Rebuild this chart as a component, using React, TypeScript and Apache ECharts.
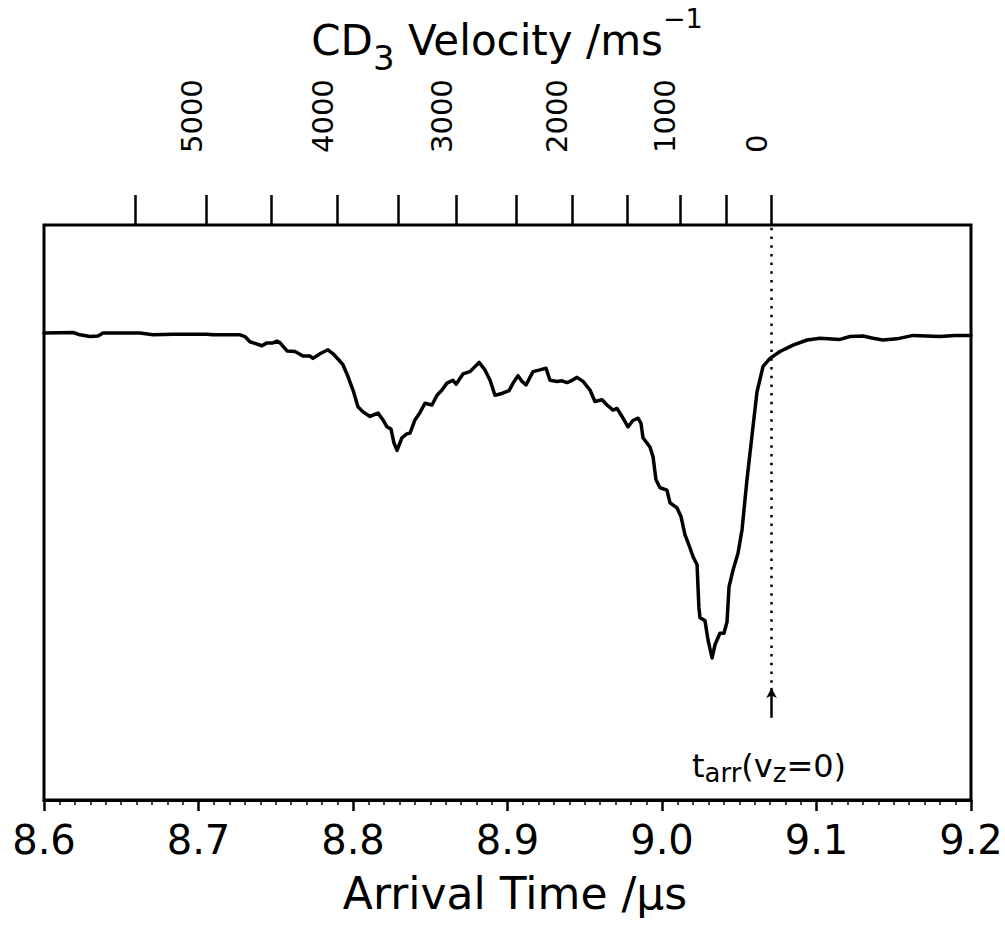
import React, { useEffect, useRef } from "react";
import * as echarts from "echarts";

// Arrival time (µs) and detected signal (arbitrary units, 0–100 over the plot height)
const timeUs = [
  8.6, 8.6188, 8.6233, 8.6298, 8.635, 8.6382, 8.6621, 8.6706, 8.6835, 8.7055,
  8.7094, 8.7184, 8.7269, 8.7301, 8.7333, 8.7411, 8.7443, 8.7482, 8.7508, 8.7528,
  8.7573, 8.7625, 8.7676, 8.7722, 8.7741, 8.7786, 8.7838, 8.7871, 8.7916, 8.7935,
  8.7968, 8.8, 8.8032, 8.8065, 8.811, 8.8162, 8.8194, 8.822, 8.8246, 8.8265,
  8.8285, 8.8317, 8.835, 8.8369, 8.8401, 8.8434, 8.8466, 8.8511, 8.8544, 8.8576,
  8.8608, 8.8647, 8.8667, 8.8712, 8.8757, 8.8816, 8.8854, 8.8887, 8.8919, 8.8964,
  8.901, 8.9036, 8.9068, 8.9094, 8.912, 8.9165, 8.921, 8.9249, 8.9275, 8.932,
  8.9353, 8.9385, 8.9405, 8.945, 8.9489, 8.9534, 8.9566, 8.9612, 8.9644, 8.9683,
  8.9709, 8.9741, 8.978, 8.9812, 8.9845, 8.9864, 8.9877, 8.9922, 8.9942, 8.9961,
  8.9987, 9.0032, 9.0052, 9.0097, 9.0123, 9.0149, 9.0175, 9.0201, 9.0227, 9.0233,
  9.0239, 9.0246, 9.0278, 9.0298, 9.0324, 9.0343, 9.0375, 9.0401, 9.0421, 9.0434,
  9.046, 9.0492, 9.0518, 9.055, 9.0583, 9.0615, 9.0654, 9.0699, 9.0764, 9.0848,
  9.0939, 9.1023, 9.1152, 9.1217, 9.1301, 9.1366, 9.143, 9.1521, 9.1625, 9.1799,
  9.1896, 9.2,
];
const signal = [
  81.2, 81.3, 80.9, 80.6, 80.7, 81.2, 81.2, 80.9, 81.0, 81.0,
  80.9, 80.9, 80.9, 80.6, 79.7, 79.0, 79.5, 79.5, 79.8, 79.5,
  78.1, 78.0, 77.2, 77.2, 76.8, 77.6, 78.3, 77.6, 76.3, 75.7,
  73.6, 71.3, 68.4, 67.5, 66.7, 67.3, 66.1, 64.9, 64.5, 62.1,
  60.8, 63.0, 63.7, 63.8, 66.1, 67.4, 69.0, 68.7, 70.4, 71.3,
  72.5, 73.0, 72.3, 74.1, 74.5, 76.1, 74.8, 73.0, 70.4, 70.7,
  71.2, 72.5, 73.8, 72.8, 72.2, 74.5, 74.8, 75.1, 73.0, 72.8,
  72.9, 72.6, 72.8, 73.5, 72.8, 71.3, 69.3, 69.6, 68.7, 67.8,
  68.1, 66.7, 64.9, 66.0, 66.4, 65.5, 63.0, 61.4, 59.7, 55.7,
  54.3, 53.9, 51.7, 50.8, 49.3, 46.1, 44.3, 42.3, 40.9, 37.1,
  33.4, 31.7, 31.2, 27.8, 24.7, 27.0, 29.0, 29.0, 31.0, 37.1,
  40.0, 42.9, 47.0, 55.7, 63.5, 71.0, 75.4, 76.8, 78.0, 79.1,
  80.0, 80.3, 80.1, 80.6, 80.7, 80.3, 80.0, 80.2, 80.8, 80.6,
  80.8, 80.8,
];

// Top (velocity) axis: tick values and the arrival times where they sit
const velocityTicks = [5500, 5000, 4500, 4000, 3500, 3000, 2500, 2000, 1500, 1000, 500, 0];
const velocityTickTimes = [
  8.6592, 8.705, 8.7469, 8.79, 8.8295, 8.8668, 8.9057, 8.9416, 8.9773, 9.0115, 9.0414, 9.0709,
];

// Annotation arrow (signal units): dotted line top/bottom, arrow tip, arrow tail
const dottedTop = 100;
const dottedBottom = 20.4;
const arrowTip = 19.5;
const arrowTail = 14.3;

const FONT = "'DejaVu Sans', 'Noto Sans', sans-serif";

export default function App() {
  const ref = useRef<HTMLDivElement>(null);

  useEffect(() => {
    if (!ref.current) return;
    const chart = echarts.init(ref.current, null, { renderer: "svg" });
    const t0 = velocityTickTimes[velocityTicks.indexOf(0)];
    const labeledTimes = velocityTickTimes.filter((_, i) => velocityTicks[i] % 1000 === 0);

    const option: any = {
      animation: false,
      backgroundColor: "#fff",
      grid: {
        left: 44,
        right: 34,
        top: 225,
        bottom: 125,
        show: true,
        borderColor: "#000",
        borderWidth: 3,
        containLabel: false,
        outerBoundsMode: "none",
      },
      xAxis: [
        {
          type: "value",
          position: "bottom",
          min: 8.6,
          max: 9.2,
          interval: 0.1,
          axisLine: { show: true, lineStyle: { color: "#000", width: 3 } },
          axisTick: { show: true, inside: false, length: 11, lineStyle: { color: "#000", width: 2.5 } },
          minorTick: { show: true, splitNumber: 10, length: 5, lineStyle: { color: "#000", width: 1.5 } },
          splitLine: { show: false },
          axisLabel: {
            show: true,
            margin: 20,
            color: "#000",
            fontSize: 40,
            fontFamily: FONT,
            showMinLabel: true,
            showMaxLabel: true,
            hideOverlap: false,
            formatter: (v: number) => v.toFixed(1),
          },
        },
        {
          type: "value",
          position: "top",
          min: 8.6,
          max: 9.2,
          axisLine: { show: false },
          axisTick: {
            show: true,
            inside: false,
            length: 30,
            customValues: velocityTickTimes,
            lineStyle: { color: "#000", width: 2.5 },
          },
          splitLine: { show: false },
          axisLabel: {
            show: true,
            customValues: labeledTimes,
            rotate: -90,
            margin: 72,
            verticalAlign: "bottom",
            color: "#000",
            fontSize: 29,
            fontFamily: FONT,
            formatter: (v: number) => {
              let best = 0;
              velocityTickTimes.forEach((tt, i) => {
                if (Math.abs(tt - v) < Math.abs(velocityTickTimes[best] - v)) best = i;
              });
              return String(velocityTicks[best]);
            },
          },
        },
      ],
      yAxis: {
        type: "value",
        min: 0,
        max: 100,
        show: false,
        splitLine: { show: false },
      },
      series: [
        {
          type: "line",
          xAxisIndex: 0,
          data: timeUs.map((t, i) => [t, signal[i]]),
          showSymbol: false,
          symbol: "none",
          lineStyle: { color: "#000", width: 3.5, join: "round", cap: "round" },
          markLine: {
            silent: true,
            symbol: ["none", "none"],
            label: { show: false },
            data: [
              [
                { coord: [t0, dottedBottom], symbol: "none", lineStyle: { color: "#000", width: 2.5, type: [2.5, 6.2] } },
                { coord: [t0, dottedTop], symbol: "none" },
              ],
              [
                { coord: [t0, arrowTail], symbol: "none", lineStyle: { color: "#000", width: 2.5, type: "solid" } },
                { coord: [t0, arrowTip], symbol: "arrow", symbolSize: [8, 10] },
              ],
            ],
          },
        },
      ],
      graphic: [
        {
          type: "text",
          x: 507,
          y: 40,
          style: {
            text: "{n|CD}{sub|3}{n| Velocity /ms}{sup|−1}",
            align: "center",
            verticalAlign: "middle",
            fill: "#000",
            rich: {
              n: { fontSize: 42, fontFamily: FONT, lineHeight: 70, verticalAlign: "middle", fill: "#000", color: "#000" },
              sub: { fontSize: 34, fontFamily: FONT, lineHeight: 45, verticalAlign: "bottom", fill: "#000", color: "#000" },
              sup: { fontSize: 27, fontFamily: FONT, lineHeight: 21, verticalAlign: "top", fill: "#000", color: "#000" },
            },
          },
        },
        {
          type: "text",
          x: 515,
          y: 893,
          style: {
            text: "Arrival Time /μs",
            align: "center",
            verticalAlign: "middle",
            fill: "#000",
            font: `44px ${FONT}`,
          },
        },
        {
          type: "text",
          x: 769,
          y: 766,
          style: {
            text: "{n|t}{sub|arr}{n|(v}{sub|z}{n|=0)}",
            align: "center",
            verticalAlign: "middle",
            fill: "#000",
            rich: {
              n: { fontSize: 32, fontFamily: FONT, lineHeight: 40, verticalAlign: "middle", fill: "#000", color: "#000" },
              sub: { fontSize: 26, fontFamily: FONT, lineHeight: 18, verticalAlign: "bottom", fill: "#000", color: "#000" },
            },
          },
        },
      ],
    };

    chart.setOption(option);
    return () => chart.dispose();
  }, []);

  return (
    <div
      ref={ref}
      style={{ position: "fixed", left: 0, top: 0, width: 1005, height: 925, background: "#fff" }}
    />
  );
}
